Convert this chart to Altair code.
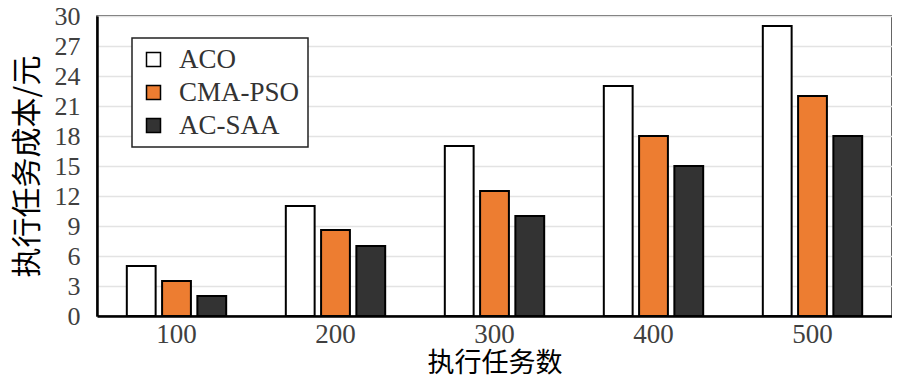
import altair as alt
import pandas as pd

tasks = ["100", "200", "300", "400", "500"]
series = ["ACO", "CMA-PSO", "AC-SAA"]
aco = [5, 11, 17, 23, 29]
cma_pso = [3.5, 8.6, 12.5, 18, 22]
ac_saa = [2, 7, 10, 15, 18]
colors = ["#ffffff", "#ed7d31", "#333333"]
y_ticks = [0, 3, 6, 9, 12, 15, 18, 21, 24, 27, 30]

rows = []
for name, vals in zip(series, [aco, cma_pso, ac_saa]):
    for t, v in zip(tasks, vals):
        rows.append({"task": t, "method": name, "cost": v})
df = pd.DataFrame(rows)

serif = "Liberation Serif"
cjk = "Noto Sans CJK SC"

chart = alt.Chart(df).mark_bar(stroke="black", strokeWidth=2).encode(
    x=alt.X("task:N", sort=tasks,
            scale=alt.Scale(paddingInner=0.375, paddingOuter=0.1875),
            axis=alt.Axis(title="执行任务数", labelAngle=0, tickSize=0,
                          labelPadding=5, labelFontSize=27, labelFont=serif,
                          labelColor="#404040", titleFont=cjk, titleFontSize=27,
                          titleFontWeight="normal", titlePadding=3,
                          domainColor="black", domainWidth=2.5, grid=False)),
    xOffset=alt.XOffset("method:N", sort=series,
                        scale=alt.Scale(paddingInner=0.183, paddingOuter=0)),
    y=alt.Y("cost:Q", scale=alt.Scale(domain=[0, 30], nice=False),
            axis=alt.Axis(title="执行任务成本/元", values=y_ticks, tickSize=0,
                          labelPadding=17, labelFontSize=26, labelFont=serif,
                          labelColor="#404040", titleFont=cjk, titleFontSize=30,
                          titleFontWeight="normal", titleX=-70, titleY=150,
                          titleAngle=-90, titleAlign="center", titleBaseline="middle",
                          domainColor="black", domainWidth=2.5,
                          gridColor="#e3e3e3", gridWidth=1.5)),
    color=alt.Color("method:N", sort=series,
                    scale=alt.Scale(domain=series, range=colors),
                    legend=alt.Legend(title=None, orient="none", legendX=35, legendY=22,
                                      symbolType="square", symbolSize=196,
                                      symbolStrokeColor="black", symbolStrokeWidth=1.5,
                                      labelFont=serif, labelFontSize=27, labelColor="#333333",
                                      labelOffset=12, rowPadding=5,
                                      padding=8, strokeColor="#222222",
                                      fillColor="white")),
).properties(
    width=795, height=300,
    autosize=alt.AutoSizeParams(type="none"),
    padding={"left": 89, "top": 8, "right": 0, "bottom": 64},
).configure_view(stroke="#333333", strokeWidth=1.5).configure_legend(
    strokeWidth=1.5
)

chart.save("out.html", embed_options={"renderer": "svg", "actions": False})
